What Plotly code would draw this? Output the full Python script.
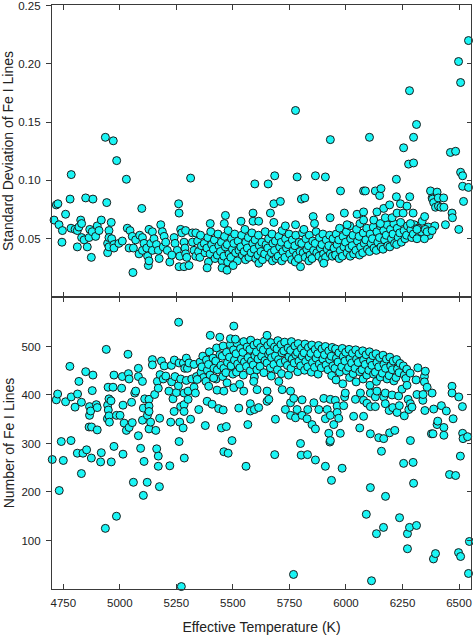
"""Fe I line statistics vs effective temperature, two stacked panels."""

import plotly.graph_objects as go
from plotly.subplots import make_subplots

FONT = "Arial, Liberation Sans, Helvetica, sans-serif"
CYAN = "#1AF5F5"
EDGE = "#1a1a1a"
AXIS = "#3a3a3a"

# ---- top panel: standard deviation of Fe I lines ----
# cool stars, 4700-5340 K
sd_teff_cool = [
    4709, 4719, 4726, 4731, 4744, 4746, 4760, 4780, 4785, 4784,
    4802, 4812, 4812, 4819, 4827, 4831, 4831, 4842, 4849, 4856,
    4864, 4867, 4874, 4878, 4881, 4893, 4900, 4908, 4918, 4936,
    4942, 4946, 4946, 4952, 4952, 4952, 4962, 4964, 4971, 4974,
    4974, 4986, 4996, 5011, 5029, 5033, 5041, 5045, 5055, 5058,
    5060, 5070, 5085, 5088, 5097, 5100, 5100, 5107, 5119, 5123,
    5126, 5129, 5129, 5137, 5144, 5144, 5151, 5162, 5170, 5174,
    5181, 5188, 5192, 5196, 5203, 5210, 5221, 5240, 5244, 5254,
    5260, 5262, 5262, 5265, 5269, 5274, 5284, 5284, 5288, 5291,
    5291, 5296, 5306, 5313, 5321, 5321, 5328, 5336, 5336, 5230,
]
sd_cool = [
    0.066, 0.079, 0.080, 0.062, 0.047, 0.057, 0.071, 0.084, 0.105, 0.059,
    0.058, 0.057, 0.043, 0.060, 0.066, 0.063, 0.051, 0.049, 0.085, 0.043,
    0.051, 0.058, 0.034, 0.056, 0.084, 0.052, 0.061, 0.057, 0.066, 0.137,
    0.081, 0.046, 0.038, 0.057, 0.051, 0.043, 0.064, 0.050, 0.134, 0.045,
    0.042, 0.117, 0.046, 0.048, 0.101, 0.059, 0.042, 0.057, 0.052, 0.021,
    0.042, 0.049, 0.037, 0.053, 0.076, 0.051, 0.040, 0.046, 0.042, 0.035,
    0.027, 0.058, 0.031, 0.046, 0.056, 0.040, 0.050, 0.045, 0.040, 0.033,
    0.062, 0.056, 0.043, 0.052, 0.047, 0.040, 0.030, 0.051, 0.046, 0.040,
    0.080, 0.072, 0.026, 0.035, 0.058, 0.055, 0.047, 0.026, 0.042, 0.057,
    0.037, 0.034, 0.027, 0.102, 0.047, 0.055, 0.040, 0.035, 0.055, 0.036,
]

# solar-type band, 5340-5950 K
sd_teff_mid = [
    5344, 5348,
    5357, 5361, 5354,
    5373, 5377,
    5389, 5385, 5392,
    5402, 5406, 5399,
    5418, 5414, 5421,
    5434, 5438, 5431,
    5449, 5445, 5452,
    5463, 5467, 5460,
    5479, 5475, 5483, 5477,
    5494, 5498, 5491,
    5508, 5504, 5512,
    5523, 5527, 5520,
    5539, 5535, 5542,
    5553, 5557, 5550, 5556,
    5568, 5564, 5571,
    5584, 5588, 5581,
    5598, 5594, 5601,
    5613, 5617, 5610, 5615,
    5628, 5624, 5631,
    5643, 5647, 5640,
    5658, 5654, 5661,
    5673, 5677, 5670, 5675,
    5688, 5684, 5691,
    5703, 5707, 5700,
    5718, 5714, 5721, 5716,
    5733, 5737, 5730,
    5748, 5744, 5751,
    5763, 5767, 5760,
    5778, 5774, 5781, 5776,
    5793, 5797, 5790,
    5808, 5804, 5811,
    5823, 5827, 5820,
    5838, 5834, 5841, 5836,
    5853, 5857, 5850,
    5868, 5864, 5871,
    5883, 5887, 5880,
    5898, 5894, 5901, 5896,
    5913, 5917, 5910,
    5928, 5924, 5931,
    5943, 5947, 5940,
]
sd_mid = [
    0.048, 0.039,
    0.053, 0.044, 0.034,
    0.046, 0.038,
    0.051, 0.042, 0.030,
    0.056, 0.045, 0.037,
    0.049, 0.041, 0.033,
    0.054, 0.044, 0.036,
    0.047, 0.039, 0.031,
    0.052, 0.043, 0.035,
    0.057, 0.045, 0.037, 0.030,
    0.050, 0.041, 0.034,
    0.054, 0.046, 0.038,
    0.048, 0.040, 0.031,
    0.053, 0.043, 0.036,
    0.058, 0.047, 0.039, 0.032,
    0.051, 0.042, 0.034,
    0.055, 0.046, 0.038,
    0.049, 0.041, 0.033,
    0.053, 0.044, 0.036, 0.029,
    0.047, 0.039, 0.032,
    0.056, 0.045, 0.037,
    0.050, 0.042, 0.034,
    0.054, 0.046, 0.038, 0.031,
    0.048, 0.040, 0.033,
    0.052, 0.043, 0.035,
    0.057, 0.047, 0.039, 0.031,
    0.050, 0.042, 0.034,
    0.054, 0.045, 0.037,
    0.049, 0.040, 0.032,
    0.053, 0.044, 0.036, 0.030,
    0.047, 0.039, 0.033,
    0.055, 0.046, 0.038,
    0.050, 0.041, 0.034,
    0.053, 0.044, 0.036, 0.031,
    0.048, 0.040, 0.033,
    0.056, 0.046, 0.038,
    0.051, 0.042, 0.035,
    0.054, 0.045, 0.037, 0.032,
    0.049, 0.041, 0.034,
    0.053, 0.044, 0.037,
    0.050, 0.042, 0.035,
]

# scattered high points, 5380-5950 K
sd_teff_mid_out = [
    5386, 5400, 5452, 5462, 5467, 5474, 5501, 5536, 5589, 5589,
    5597, 5614, 5656, 5666, 5681, 5681, 5685, 5710, 5732, 5777,
    5777, 5784, 5799, 5803, 5814, 5818, 5855, 5861, 5865, 5902,
    5909, 5930, 5931,
]
sd_mid_out = [
    0.025, 0.063, 0.025, 0.063, 0.070, 0.023, 0.027, 0.065, 0.072, 0.065,
    0.097, 0.065, 0.097, 0.072, 0.080, 0.064, 0.104, 0.082, 0.061, 0.062,
    0.160, 0.103, 0.026, 0.084, 0.058, 0.085, 0.069, 0.063, 0.104, 0.029,
    0.103, 0.068, 0.135,
]

# hot band, 5955-6400 K
sd_teff_hot = [
    5957, 5961, 5954,
    5972, 5968, 5975, 5970,
    5987, 5991, 5984,
    6002, 5998, 6005,
    6017, 6021, 6014, 6019,
    6031, 6027, 6034,
    6047, 6051, 6044,
    6062, 6058, 6065, 6060,
    6077, 6081, 6074,
    6092, 6088, 6095,
    6107, 6111, 6104,
    6121, 6117, 6124,
    6137, 6141, 6134,
    6152, 6148, 6155,
    6167, 6171, 6164,
    6182, 6178, 6185,
    6197, 6201, 6194,
    6212, 6208, 6215,
    6227, 6231, 6224,
    6242, 6238, 6245,
    6257, 6261,
    6272, 6268,
    6287, 6291,
    6302, 6298,
    6318, 6322,
    6334,
    6364, 6368,
    6393,
]
sd_hot = [
    0.054, 0.045, 0.036,
    0.059, 0.049, 0.040, 0.033,
    0.052, 0.043, 0.035,
    0.056, 0.047, 0.038,
    0.061, 0.050, 0.042, 0.035,
    0.053, 0.044, 0.037,
    0.058, 0.048, 0.040,
    0.063, 0.052, 0.043, 0.036,
    0.055, 0.046, 0.038,
    0.059, 0.049, 0.041,
    0.054, 0.046, 0.039,
    0.060, 0.050, 0.042,
    0.056, 0.047, 0.040,
    0.061, 0.051, 0.043,
    0.057, 0.049, 0.041,
    0.062, 0.053, 0.044,
    0.058, 0.050, 0.043,
    0.063, 0.054, 0.046,
    0.059, 0.051, 0.045,
    0.064, 0.055, 0.047,
    0.057, 0.050,
    0.061, 0.053,
    0.058, 0.051,
    0.062, 0.054,
    0.059, 0.052,
    0.056,
    0.060, 0.053,
    0.061,
]

# scattered points, 5970-6550 K
sd_teff_hot_out = [
    5976, 5993, 6005, 6049, 6078, 6078, 6078, 6086, 6104, 6123,
    6130, 6137, 6149, 6152, 6155, 6167, 6174, 6193, 6204, 6223,
    6223, 6226, 6241, 6253, 6255, 6270, 6277, 6281, 6282, 6285,
    6297, 6299, 6299, 6312, 6314, 6314, 6337, 6347, 6348, 6351,
    6359, 6374, 6381, 6381, 6383, 6388, 6396, 6403, 6408, 6409,
    6420, 6432, 6433, 6440, 6462, 6469, 6471, 6485, 6498, 6499,
    6507, 6507, 6516, 6516, 6520, 6542, 6542,
]
sd_hot_out = [
    0.091, 0.072, 0.062, 0.071, 0.091, 0.073, 0.066, 0.091, 0.137, 0.066,
    0.091, 0.073, 0.087, 0.063, 0.093, 0.076, 0.068, 0.079, 0.068, 0.101,
    0.086, 0.072, 0.080, 0.072, 0.128, 0.078, 0.114, 0.177, 0.086, 0.063,
    0.072, 0.115, 0.137, 0.148, 0.058, 0.050, 0.065, 0.050, 0.069, 0.058,
    0.056, 0.091, 0.057, 0.085, 0.084, 0.081, 0.077, 0.090, 0.085, 0.078,
    0.077, 0.085, 0.077, 0.062, 0.124, 0.072, 0.068, 0.125, 0.202, 0.058,
    0.184, 0.107, 0.104, 0.095, 0.082, 0.220, 0.094,
]

# ---- bottom panel: number of Fe I lines ----
nl_teff_cool = [
    4701, 4719, 4725, 4732, 4741, 4750, 4760, 4779, 4784, 4785,
    4802, 4812, 4813, 4819, 4830, 4830, 4837, 4849, 4853, 4864,
    4866, 4866, 4871, 4874, 4875, 4878, 4881, 4896, 4900, 4900,
    4915, 4918, 4936, 4940, 4945, 4946, 4948, 4949, 4952, 4952,
    4954, 4961, 4962, 4970, 4974, 4974, 4985, 4985, 5001, 5008,
    5011, 5014, 5014, 5019, 5029, 5036, 5038, 5041, 5041, 5052,
    5055, 5060, 5066, 5070, 5082, 5082, 5082, 5092, 5100, 5100,
    5104, 5104, 5107, 5110, 5121, 5122, 5129, 5129, 5129, 5129,
    5136, 5144, 5144, 5154, 5159, 5163, 5166, 5170, 5170, 5170,
    5175, 5176, 5178, 5184, 5192, 5196, 5203, 5217, 5221, 5225,
    5228, 5229, 5235, 5240, 5241, 5244, 5250, 5259, 5260, 5262,
    5262, 5265, 5269, 5269, 5272, 5280, 5281, 5284, 5284, 5284,
    5285, 5287, 5294, 5294, 5299, 5302, 5302, 5306, 5313, 5318,
    5328, 5328, 5339,
]
nl_cool = [
    267, 390, 402, 203, 304, 265, 386, 459, 306, 396,
    375, 280, 402, 428, 385, 238, 280, 448, 287, 334,
    376, 358, 367, 270, 334, 409, 441, 380, 374, 328,
    262, 281, 125, 494, 351, 379, 416, 369, 392, 357,
    344, 388, 262, 416, 441, 294, 358, 150, 358, 414,
    438, 379, 278, 342, 327, 484, 444, 433, 333, 385,
    343, 220, 404, 408, 455, 438, 316, 290, 428, 348,
    373, 193, 263, 392, 220, 358, 391, 377, 366, 330,
    344, 473, 462, 401, 327, 289, 428, 414, 274, 253,
    211, 352, 442, 470, 433, 460, 439, 408, 254, 344,
    461, 427, 392, 366, 472, 438, 405, 419, 550, 466,
    304, 344, 433, 376, 5, 332, 466, 404, 380, 366,
    270, 455, 476, 430, 455, 408, 391, 466, 350, 433,
    463, 416, 438,
]

# dense upper band, 5350-5950 K
nl_teff_mid = [
    5355, 5359,
    5367, 5363, 5370,
    5383, 5387,
    5396, 5392, 5399,
    5412, 5416,
    5428, 5424, 5431, 5426,
    5443, 5447,
    5457, 5453, 5460, 5455,
    5472, 5476, 5469,
    5489, 5485, 5492,
    5503, 5507, 5500,
    5518, 5514, 5521, 5516,
    5534, 5538, 5531,
    5548, 5544, 5551, 5546,
    5563, 5567, 5560,
    5579, 5575, 5582, 5577,
    5593, 5597, 5590, 5595,
    5608, 5604, 5611, 5606,
    5623, 5627, 5620,
    5639, 5635, 5642, 5637,
    5654, 5658, 5651,
    5668, 5664, 5671, 5666, 5670,
    5684, 5688, 5681,
    5699, 5695, 5702, 5697,
    5713, 5717, 5710, 5715,
    5729, 5725, 5732,
    5744, 5748, 5741, 5746,
    5759, 5755, 5762, 5757,
    5774, 5778, 5771,
    5789, 5785, 5792, 5787,
    5803, 5807, 5800,
    5819, 5815, 5822, 5817,
    5834, 5838, 5831,
    5849, 5845, 5852, 5847,
    5864, 5868, 5861,
    5879, 5875, 5882, 5877,
    5894, 5898, 5891,
    5909, 5905, 5912,
    5924, 5928, 5921,
    5939, 5935, 5942, 5937,
]
nl_mid = [
    468, 447,
    480, 458, 436,
    472, 451,
    489, 463, 441,
    476, 455,
    497, 470, 452, 433,
    483, 461,
    501, 480, 455, 438,
    488, 467, 446,
    504, 478, 460,
    493, 472, 443,
    507, 485, 464, 447,
    496, 474, 456,
    510, 488, 468, 441,
    499, 477, 459,
    513, 494, 470, 450,
    503, 481, 462, 437,
    507, 489, 474, 452,
    498, 480, 459,
    511, 493, 471, 446,
    502, 484, 466,
    508, 489, 477, 456, 439,
    499, 481, 463,
    512, 495, 473, 452,
    504, 487, 466, 444,
    509, 491, 470,
    497, 479, 461, 441,
    510, 492, 474, 455,
    501, 483, 466,
    506, 488, 470, 448,
    496, 480, 460,
    505, 487, 469, 451,
    498, 478, 458,
    503, 486, 467, 447,
    494, 476, 457,
    502, 485, 464, 443,
    495, 474, 456,
    500, 483, 462,
    491, 473, 452,
    498, 480, 460, 440,
]

# scattered points below the band, 5330-5950 K
nl_teff_mid_out = [
    5334, 5342, 5349, 5378, 5381, 5386, 5393, 5400, 5408, 5415,
    5430, 5437, 5442, 5449, 5457, 5460, 5460, 5471, 5474, 5479,
    5489, 5496, 5504, 5504, 5511, 5526, 5530, 5548, 5558, 5566,
    5577, 5577, 5592, 5595, 5607, 5614, 5651, 5651, 5651, 5659,
    5685, 5688, 5703, 5718, 5732, 5755, 5755, 5755, 5768, 5769,
    5777, 5784, 5799, 5802, 5806, 5806, 5828, 5830, 5831, 5850,
    5858, 5865, 5865, 5880, 5902, 5909, 5909, 5917, 5924, 5929,
    5931, 5936, 5946,
]
nl_mid_out = [
    404, 432, 370, 337, 428, 387, 418, 523, 381, 435,
    410, 372, 519, 332, 369, 408, 283, 335, 425, 280,
    516, 306, 542, 415, 515, 373, 422, 408, 253, 339,
    382, 367, 428, 370, 411, 374, 523, 408, 387, 391,
    277, 350, 428, 411, 370, 408, 384, 358, 30, 393,
    353, 370, 300, 276, 358, 390, 351, 277, 370, 339,
    384, 330, 266, 370, 393, 351, 253, 370, 321, 303,
    358, 224, 339,
]

# dense upper band, 5955-6290 K
nl_teff_hot = [
    5954, 5958, 5951, 5956,
    5969, 5965, 5972,
    5984, 5988, 5981, 5986,
    5999, 5995, 6002,
    6014, 6018, 6011, 6016,
    6029, 6025, 6032,
    6043, 6047, 6040, 6045,
    6058, 6054, 6061,
    6074, 6078, 6071, 6076,
    6089, 6085, 6092,
    6104, 6108, 6101, 6106,
    6119, 6115, 6122,
    6133, 6137, 6130, 6135,
    6149, 6145, 6152,
    6164, 6168, 6161,
    6179, 6175, 6182,
    6194, 6198, 6191,
    6209, 6205, 6212,
    6224, 6228, 6221,
    6239, 6235,
    6254, 6258,
    6269, 6265,
    6284,
]
nl_hot = [
    495, 476, 455, 431,
    487, 468, 447,
    496, 479, 458, 423,
    488, 470, 450,
    494, 475, 457, 436,
    486, 466, 444,
    493, 474, 455, 427,
    485, 467, 448,
    491, 472, 452, 433,
    483, 463, 441,
    489, 470, 451, 420,
    481, 461, 443,
    485, 467, 447, 428,
    477, 458, 437,
    482, 463, 445,
    474, 455, 433,
    478, 460, 440,
    470, 452, 429,
    473, 454, 436,
    465, 446,
    460, 441,
    453, 434,
    445,
]

# scattered points, 5930-6550 K
nl_teff_hot_out = [
    5931, 5931, 5953, 5961, 5961, 5968, 5975, 5983, 5990, 5994,
    5997, 6034, 6042, 6061, 6064, 6078, 6078, 6090, 6093, 6108,
    6108, 6108, 6108, 6113, 6130, 6130, 6135, 6137, 6145, 6157,
    6166, 6167, 6167, 6174, 6174, 6175, 6191, 6193, 6204, 6207,
    6216, 6226, 6233, 6236, 6237, 6248, 6255, 6258, 6270, 6272,
    6272, 6275, 6278, 6281, 6285, 6285, 6292, 6297, 6299, 6310,
    6312, 6314, 6318, 6340, 6341, 6347, 6347, 6349, 6351, 6359,
    6378, 6381, 6385, 6387, 6388, 6396, 6403, 6406, 6422, 6433,
    6433, 6444, 6458, 6469, 6469, 6474, 6485, 6498, 6499, 6506,
    6507, 6515, 6516, 6518, 6538, 6542, 6546,
]
nl_hot_out = [
    391, 306, 389, 377, 364, 352, 321, 249, 378, 396,
    404, 356, 391, 332, 404, 389, 356, 154, 383, 404,
    376, 320, 209, 17, 396, 376, 114, 408, 312, 284,
    127, 396, 310, 404, 382, 191, 368, 322, 400, 374,
    327, 364, 398, 378, 147, 412, 259, 357, 420, 114,
    83, 391, 370, 127, 382, 306, 375, 261, 218, 431,
    131, 401, 456, 389, 401, 438, 427, 368, 449, 416,
    320, 404, 320, 62, 371, 73, 339, 346, 378, 333,
    317, 367, 236, 418, 404, 351, 234, 75, 396, 274,
    67, 376, 321, 310, 314, 32, 98,
]

sd_teff = sd_teff_cool + sd_teff_mid + sd_teff_mid_out + sd_teff_hot + sd_teff_hot_out
sd_val = sd_cool + sd_mid + sd_mid_out + sd_hot + sd_hot_out
nl_teff = nl_teff_cool + nl_teff_mid + nl_teff_mid_out + nl_teff_hot + nl_teff_hot_out
nl_val = nl_cool + nl_mid + nl_mid_out + nl_hot + nl_hot_out

for a, b in [(sd_teff_cool, sd_cool), (sd_teff_mid, sd_mid), (sd_teff_mid_out, sd_mid_out),
             (sd_teff_hot, sd_hot), (sd_teff_hot_out, sd_hot_out),
             (nl_teff_cool, nl_cool), (nl_teff_mid, nl_mid), (nl_teff_mid_out, nl_mid_out),
             (nl_teff_hot, nl_hot), (nl_teff_hot_out, nl_hot_out)]:
    assert len(a) == len(b), (len(a), len(b))

TEFF_TICKS = [4750, 5000, 5250, 5500, 5750, 6000, 6250, 6500]
SD_TICKS = [0.05, 0.10, 0.15, 0.20, 0.25]
NL_TICKS = [100, 200, 300, 400, 500]
TEFF_RANGE = [4700, 6553]
SD_RANGE = [0, 0.2505]
NL_RANGE = [0, 602]

fig = make_subplots(rows=2, cols=1, shared_xaxes=True, vertical_spacing=0)

marker = dict(size=8, color=CYAN, line=dict(color=EDGE, width=1))
fig.add_scatter(x=sd_teff, y=sd_val, mode="markers", marker=marker,
                cliponaxis=False, showlegend=False, row=1, col=1)
fig.add_scatter(x=nl_teff, y=nl_val, mode="markers", marker=marker,
                cliponaxis=False, showlegend=False, row=2, col=1)
# empty traces so the right-hand tick axes get drawn
fig.add_scatter(x=[], y=[], xaxis="x", yaxis="y3", showlegend=False, hoverinfo="skip")
fig.add_scatter(x=[], y=[], xaxis="x2", yaxis="y4", showlegend=False, hoverinfo="skip")

tick_font = dict(family=FONT, size=11.5, color="#222")
title_font = dict(family=FONT, size=14, color="#222")

xcommon = dict(
    range=TEFF_RANGE, tickvals=TEFF_TICKS, ticks="inside", ticklen=5,
    tickcolor=AXIS, tickwidth=1, showline=True, linecolor=AXIS, linewidth=1.2,
    mirror="ticks", showgrid=False, zeroline=False, tickfont=tick_font,
    automargin=False, ticklabeloverflow="allow",
)
ycommon = dict(
    ticks="outside", ticklen=5, tickcolor=AXIS, tickwidth=1, showline=True,
    linecolor=AXIS, linewidth=1.2, mirror=True, showgrid=False, zeroline=False,
    tickfont=tick_font, automargin=False, ticklabelstandoff=3,
    ticklabeloverflow="allow",
)
right_common = dict(
    side="right", ticks="inside", ticklen=4, tickcolor=AXIS, tickwidth=1,
    showline=False, showticklabels=False, showgrid=False, zeroline=False,
    automargin=False,
)

fig.update_layout(
    width=473, height=635,
    margin=dict(l=52, r=2, t=5, b=46),
    paper_bgcolor="white", plot_bgcolor="white",
    font=dict(family=FONT, color="#222"),
    showlegend=False,
    xaxis=dict(**xcommon, showticklabels=False),
    xaxis2=dict(**xcommon, ticklabelstandoff=3,
                title=dict(text="Effective Temperature (K)",
                           font=title_font, standoff=16)),
    yaxis=dict(**ycommon, range=SD_RANGE, tickvals=SD_TICKS, tickformat=".2f",
               title=dict(text="Standard Deviation of Fe I Lines",
                          font=title_font, standoff=3)),
    yaxis2=dict(**ycommon, range=NL_RANGE, tickvals=NL_TICKS,
                title=dict(text="Number of Fe I Lines", font=title_font,
                           standoff=3)),
    yaxis3=dict(**right_common, overlaying="y", anchor="x", range=SD_RANGE,
                tickvals=SD_TICKS),
    yaxis4=dict(**right_common, overlaying="y2", anchor="x2", range=NL_RANGE,
                tickvals=NL_TICKS),
)

# the page's default body margin would shift the figure by 8 px
fig.write_html("out.html", config={"displayModeBar": False},
               post_script="document.body.style.margin = '0';")
